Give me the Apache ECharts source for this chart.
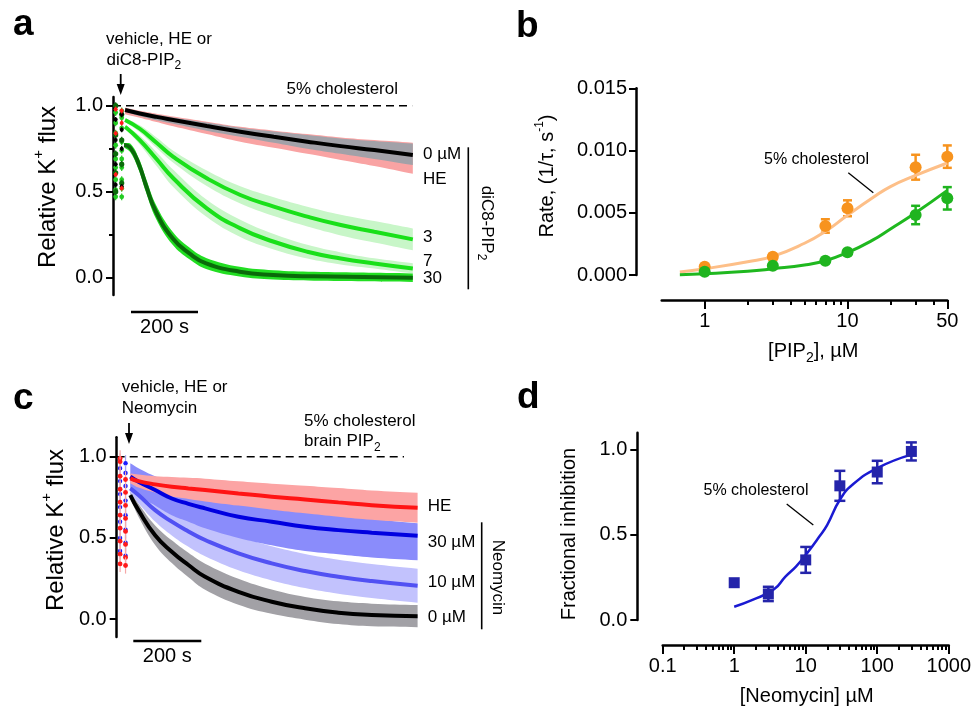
<!DOCTYPE html>
<html><head><meta charset="utf-8">
<script src="https://cdn.jsdelivr.net/npm/echarts@6/dist/echarts.min.js"></script>
<style>html,body{margin:0;padding:0;background:#fff}#c{width:974px;height:706px}</style>
</head><body><div id="c"></div>
<script>
const FONT = '"Liberation Sans", Arial, Helvetica, sans-serif';

// ---------------- Panel a: diC8-PIP2 traces (time in s, relative flux) ----------------
const tA      = [36, 80, 130, 180, 280, 380, 480, 580, 680, 780, 895];
const a0uM    = [0.975, 0.955, 0.935, 0.917, 0.882, 0.849, 0.819, 0.791, 0.765, 0.742, 0.713];
const a0uMLo  = [0.965, 0.940, 0.915, 0.895, 0.855, 0.820, 0.785, 0.750, 0.720, 0.690, 0.655];
const a0uMHi  = [0.985, 0.965, 0.948, 0.932, 0.902, 0.872, 0.850, 0.830, 0.810, 0.795, 0.780];
const aHELo   = [0.950, 0.930, 0.905, 0.880, 0.835, 0.790, 0.755, 0.720, 0.685, 0.650, 0.605];
const aHEHi   = [0.990, 0.970, 0.953, 0.937, 0.907, 0.877, 0.855, 0.835, 0.815, 0.800, 0.785];
const a3uM    = [0.917, 0.866, 0.785, 0.703, 0.578, 0.481, 0.413, 0.355, 0.306, 0.267, 0.223];
const a3uMSem = [0.010, 0.020, 0.030, 0.035, 0.045, 0.050, 0.055, 0.058, 0.060, 0.062, 0.063];
const a7uM    = [0.878, 0.800, 0.690, 0.578, 0.403, 0.287, 0.209, 0.151, 0.112, 0.083, 0.054];
const a7uMSem = [0.010, 0.025, 0.040, 0.050, 0.050, 0.050, 0.045, 0.040, 0.035, 0.030, 0.030];
const t30A    = [33, 53, 78, 98, 128, 178, 228, 278, 378, 478, 600, 895];
const a30uM   = [0.771, 0.752, 0.655, 0.539, 0.384, 0.229, 0.141, 0.083, 0.035, 0.016, 0.008, 0.000];
const a30uMSem= [0.012, 0.025, 0.035, 0.040, 0.040, 0.038, 0.034, 0.032, 0.028, 0.027, 0.026, 0.025];
const refA    = [[0, 1.0], [893, 1.0]];
const preTimesA = [8, 26];
const preGreenA = [[0.96, 0.90, 0.84, 0.77, 0.69, 0.64, 0.57, 0.51, 0.47], [0.97, 0.93, 0.87, 0.79, 0.74, 0.69, 0.64, 0.57, 0.52, 0.47]];
const preDkGreenA = [[1.00, 0.83, 0.72, 0.61, 0.50], [0.95, 0.80, 0.66, 0.55]];
const preBlackA = [[0.92, 0.80, 0.66, 0.54], [0.95, 0.86, 0.75, 0.53]];
const preRedA   = [[0.98, 0.84, 0.60], [0.97, 0.90, 0.52]];

// ---------------- Panel b: rate vs [PIP2] ----------------
const bX        = [1, 3, 7, 10, 30, 50];
const bChol     = [0.00067, 0.00147, 0.00394, 0.00536, 0.00866, 0.00951];
const bCholErr  = [0.0001, 0.0002, 0.00054, 0.00064, 0.0010, 0.0009];
const bCtrl     = [0.00027, 0.00075, 0.00115, 0.00182, 0.00482, 0.00616];
const bCtrlErr  = [0.0001, 0.0001, 0.0001, 0.0001, 0.00074, 0.0009];
const bFitX     = [0.67, 1, 2, 3, 5, 7, 10, 15, 20, 30, 50];
const bFitChol  = [0.00024, 0.0005, 0.00107, 0.0015, 0.00255, 0.0035, 0.0048, 0.0062, 0.0071, 0.0080, 0.0090];
const bFitCtrl  = [0.00003, 0.0001, 0.0003, 0.0005, 0.0008, 0.00115, 0.0018, 0.0028, 0.0037, 0.0050, 0.0068];

// ---------------- Panel c: neomycin traces ----------------
const tC       = [40, 64, 113, 162, 211, 260, 358, 456, 554, 652, 750, 885];
const c0uM     = [0.764, 0.671, 0.517, 0.415, 0.333, 0.261, 0.168, 0.107, 0.066, 0.039, 0.025, 0.018];
const c0uMSem  = [0.02, 0.04, 0.06, 0.07, 0.075, 0.08, 0.08, 0.075, 0.07, 0.07, 0.07, 0.068];
const c10uM    = [0.805, 0.764, 0.671, 0.600, 0.540, 0.487, 0.405, 0.343, 0.296, 0.261, 0.234, 0.205];
const c10uMSem = [0.03, 0.05, 0.07, 0.085, 0.095, 0.10, 0.105, 0.105, 0.105, 0.105, 0.105, 0.105];
const c30uM    = [0.877, 0.846, 0.795, 0.743, 0.710, 0.682, 0.630, 0.600, 0.569, 0.548, 0.532, 0.513];
const c30uMLo  = [0.80, 0.76, 0.70, 0.64, 0.60, 0.56, 0.50, 0.455, 0.42, 0.40, 0.38, 0.363];
const c30uMHi  = [0.96, 0.93, 0.88, 0.84, 0.81, 0.79, 0.75, 0.72, 0.69, 0.66, 0.62, 0.59];
const cHE      = [0.867, 0.850, 0.830, 0.815, 0.805, 0.795, 0.774, 0.754, 0.737, 0.719, 0.702, 0.686];
const cHESem   = [0.03, 0.04, 0.05, 0.06, 0.065, 0.07, 0.075, 0.08, 0.085, 0.088, 0.09, 0.092];
const refC     = [[0, 1.0], [845, 1.0]];
const preTimesC = [10, 26];
const preRedC  = [[0.99, 0.97, 0.88, 0.80, 0.72, 0.64, 0.56, 0.48, 0.40, 0.34], [0.86, 0.78, 0.70, 0.62, 0.54, 0.46, 0.38, 0.33]];
const preBlueC = [[0.93, 0.85, 0.77, 0.69, 0.60, 0.50, 0.42], [0.96, 0.90, 0.82, 0.73, 0.64, 0.55, 0.47, 0.39]];

// ---------------- Panel d: fractional inhibition vs [Neomycin] ----------------
const dX    = [1, 3, 10, 30, 100, 300];
const dV    = [0.219, 0.153, 0.353, 0.788, 0.869, 0.990];
const dErr  = [0, 0.042, 0.076, 0.088, 0.066, 0.053];
const dFitX = [1, 1.8, 3.6, 5.2, 7.3, 10, 15.5, 20, 30, 45, 100, 300];
const dFitV = [0.078, 0.118, 0.18, 0.255, 0.314, 0.382, 0.49, 0.559, 0.706, 0.794, 0.892, 0.971];

// tick values
const ticksA = [0, 0.5, 1.0], minorTicksA = [0.25, 0.75];
const ticksB = [0, 0.005, 0.010, 0.015];
const ticksBX = [1, 10, 50], minorBX = [2, 3, 4, 5, 6, 7, 8, 9, 20, 30, 40];
const ticksD = [0, 0.5, 1.0];
const ticksDX = [0.1, 1, 10, 100, 1000];
const minorDX = [0.2,0.3,0.4,0.5,0.6,0.7,0.8,0.9, 2,3,4,5,6,7,8,9, 20,30,40,50,60,70,80,90, 200,300,400,500,600,700,800,900];

// ---------------- helpers ----------------
const pairs = (x, y) => x.map((v, i) => [v, y[i]]);
const sub = (a, b) => a.map((v, i) => v - b[i]);
const add = (a, b) => a.map((v, i) => v + b[i]);

function band(xi, yi, t, lo, hi, color) {
  return {type: 'custom', xAxisIndex: xi, yAxisIndex: yi, silent: true, clip: false,
    data: [[t[0], lo[0]]],
    renderItem(p, api) {
      const n = t.length, pts = [];
      // corners are repeated so the smoothed outline keeps square ends
      pts.push(api.coord([t[0], hi[0]]));
      for (let i = 0; i < n; i++) pts.push(api.coord([t[i], hi[i]]));
      pts.push(api.coord([t[n - 1], hi[n - 1]]));
      pts.push(api.coord([t[n - 1], lo[n - 1]]));
      for (let i = n - 1; i >= 0; i--) pts.push(api.coord([t[i], lo[i]]));
      pts.push(api.coord([t[0], lo[0]]));
      return {type: 'polygon', shape: {points: pts, smooth: 0.4}, style: {fill: color}};
    }};
}
function line(xi, yi, t, v, color, width, extra) {
  return Object.assign({type: 'line', xAxisIndex: xi, yAxisIndex: yi, data: pairs(t, v),
    smooth: 0.5, symbol: 'none', showSymbol: false, silent: true, clip: false,
    lineStyle: {color, width}}, extra || {});
}
function errBars(xi, yi, x, y, e, color, cap, lw) {
  return {type: 'custom', xAxisIndex: xi, yAxisIndex: yi, silent: true, clip: false, z: 3,
    data: x.map((v, i) => [v, y[i], e[i]]),
    renderItem(p, api) {
      const xv = api.value(0), yv = api.value(1), ev = api.value(2);
      if (!ev) return null;
      const tp = api.coord([xv, yv + ev]), bt = api.coord([xv, yv - ev]);
      const st = {stroke: color, lineWidth: lw};
      return {type: 'group', children: [
        {type: 'line', shape: {x1: tp[0], y1: tp[1], x2: bt[0], y2: bt[1]}, style: st},
        {type: 'line', shape: {x1: tp[0] - cap, y1: tp[1], x2: tp[0] + cap, y2: tp[1]}, style: st},
        {type: 'line', shape: {x1: bt[0] - cap, y1: bt[1], x2: bt[0] + cap, y2: bt[1]}, style: st}]};
    }};
}
function prePts(xi, yi, times, cols, color, barColor, err, r) {
  const data = [];
  cols.forEach((col, ci) => col.forEach(v => data.push([times[ci], v])));
  return {type: 'custom', xAxisIndex: xi, yAxisIndex: yi, silent: true, clip: false, z: 4, data,
    renderItem(p, api) {
      const x = api.value(0), y = api.value(1);
      const c = api.coord([x, y]), t = api.coord([x, y + err]), b = api.coord([x, y - err]);
      return {type: 'group', children: [
        {type: 'line', shape: {x1: t[0], y1: t[1], x2: b[0], y2: b[1]}, style: {stroke: barColor, lineWidth: 1.2}},
        {type: 'circle', shape: {cx: c[0], cy: c[1], r}, style: {fill: color}}]};
    }};
}
function scatter(xi, yi, x, y, color, symbol, size) {
  return {type: 'scatter', xAxisIndex: xi, yAxisIndex: yi, data: pairs(x, y), symbol, symbolSize: size,
    itemStyle: {color, opacity: 1}, silent: true, z: 5, clip: false};
}

const blackLine = {color: '#000', width: 2.5};
function yAx(grid, min, max, ticks, fmt, opt) {
  return Object.assign({gridIndex: grid, type: 'value', min, max, position: 'left',
    axisLine: {show: true, onZero: false, lineStyle: blackLine},
    axisTick: {show: true, inside: false, length: 7, customValues: ticks, lineStyle: {color: '#000', width: 2}},
    axisLabel: {show: true, customValues: ticks, formatter: fmt, margin: 10, fontSize: 20, color: '#000', fontFamily: FONT},
    splitLine: {show: false}}, opt || {});
}
function yMinor(grid, min, max, ticks) {
  return {gridIndex: grid, type: 'value', min, max, position: 'left',
    axisLine: {show: false, onZero: false}, axisLabel: {show: false}, splitLine: {show: false},
    axisTick: {show: true, inside: false, length: 4, customValues: ticks, lineStyle: {color: '#000', width: 2}}};
}
function xLog(grid, min, max, ticks, labels, len, showLine) {
  return {gridIndex: grid, type: 'log', logBase: 10, min, max, position: 'bottom', offset: 25,
    axisLine: {show: showLine, onZero: false, lineStyle: blackLine},
    axisTick: {show: true, inside: false, length: len, customValues: ticks, lineStyle: {color: '#000', width: 2}},
    axisLabel: labels ? {show: true, customValues: labels, margin: 11, fontSize: 20, color: '#000', fontFamily: FONT,
      formatter: v => String(+Number(v).toPrecision(6))} : {show: false},
    splitLine: {show: false}, minorTick: {show: false}};
}
const xTime = grid => ({gridIndex: grid, type: 'value', min: 0, max: 900, show: false,
  axisLine: {onZero: false}, splitLine: {show: false}});

// ---------------- text / decoration helpers ----------------
function txt(text, x, y, size, opt) {
  opt = opt || {};
  const align = opt.align || 'left';
  return {type: 'text', x, y, rotation: opt.rot || 0, silent: true, z: 100,
    style: {text, fill: '#000', fontSize: size, fontFamily: FONT, fontWeight: opt.bold ? 'bold' : 'normal',
      align, textAlign: align, verticalAlign: 'middle', textVerticalAlign: 'middle', rich: opt.rich}};
}
function richFor(size) {
  return {
    m:   {fontSize: size, fontFamily: FONT, lineHeight: Math.round(size * 1.4), fill: '#000'},
    sub: {fontSize: Math.round(size * 0.68), fontFamily: FONT, verticalAlign: 'bottom', fill: '#000'},
    sup: {fontSize: Math.round(size * 0.62), fontFamily: FONT, verticalAlign: 'top', fill: '#000'}
  };
}
function seg(x1, y1, x2, y2, w) {
  return {type: 'line', silent: true, z: 100, shape: {x1, y1, x2, y2}, style: {stroke: '#000', lineWidth: w}};
}
function arrow(x, y1, y2) {
  return [seg(x, y1, x, y2 - 9, 1.8),
    {type: 'polygon', silent: true, z: 100, shape: {points: [[x - 4, y2 - 11], [x + 4, y2 - 11], [x, y2]]}, style: {fill: '#000'}}];
}

const graphics = [
  // panel letters
  txt('a', 13, 25, 37, {bold: true}),
  txt('b', 516, 26.5, 37, {bold: true}),
  txt('c', 13, 398.5, 37, {bold: true}),
  txt('d', 517, 397.5, 37, {bold: true}),
  // panel a annotations
  txt('vehicle, HE or', 106, 39.5, 17),
  txt('{m|diC8-PIP}{sub|2}', 106.5, 60, 17, {rich: richFor(17)}),
  ...arrow(120.7, 74, 95),
  txt('5% cholesterol', 398, 89, 17, {align: 'right'}),
  txt('0 µM', 423, 154, 17), txt('HE', 423, 179, 17), txt('3', 423, 237.5, 17),
  txt('7', 423, 261.3, 17), txt('30', 423, 278.8, 17),
  seg(468.3, 147.3, 468.3, 289.3, 1.6),
  txt('{m|diC8-PIP}{sub|2}', 487, 223, 17, {rich: richFor(17), rot: -Math.PI / 2, align: 'center'}),
  txt('{m|Relative K}{sup|+}{m| flux}', 48.5, 187, 24, {rich: richFor(24), rot: Math.PI / 2, align: 'center'}),
  seg(131, 312, 198, 312, 2.5),
  txt('200 s', 164.5, 327, 20, {align: 'center'}),
  // panel b
  txt('5% cholesterol', 816.5, 160, 16, {align: 'center'}),
  seg(848.3, 172.7, 873.3, 192.7, 1.3),
  txt('{m|Rate, (1/τ, s}{sup|-1}{m|)}', 547.5, 176, 20, {rich: richFor(20), rot: Math.PI / 2, align: 'center'}),
  txt('{m|[PIP}{sub|2}{m|], µM}', 813.3, 351, 20, {rich: richFor(20), align: 'center'}),
  // panel c
  txt('vehicle, HE or', 121.7, 387, 17),
  txt('Neomycin', 121.7, 408, 17),
  ...arrow(129, 423, 444),
  txt('5% cholesterol', 304, 421.2, 17),
  txt('{m|brain PIP}{sub|2}', 304, 441.2, 17, {rich: richFor(17)}),
  txt('HE', 427.7, 506.5, 17), txt('30 µM', 427.7, 542, 17), txt('10 µM', 427.7, 582.5, 17), txt('0 µM', 427.7, 617.5, 17),
  seg(481.7, 522.3, 481.7, 629.3, 1.6),
  txt('Neomycin', 497.5, 577.5, 17, {rot: -Math.PI / 2, align: 'center'}),
  txt('{m|Relative K}{sup|+}{m| flux}', 56.5, 530, 24, {rich: richFor(24), rot: Math.PI / 2, align: 'center'}),
  seg(133.3, 641, 201.3, 641, 2.5),
  txt('200 s', 167.3, 656, 20, {align: 'center'}),
  // panel d
  txt('5% cholesterol', 756, 491, 16, {align: 'center'}),
  seg(786.7, 504, 813.3, 525, 1.3),
  txt('Fractional inhibition', 569, 534, 20, {rot: Math.PI / 2, align: 'center'}),
  txt('[Neomycin] µM', 806.7, 696, 20, {align: 'center'})
];

const series = [
  // ---- panel a (x0, y0)
  band(0, 0, tA, aHELo, aHEHi, '#f9a3a3'),
  band(0, 0, tA, a0uMLo, a0uMHi, '#a2a1a8'),
  band(0, 0, tA, sub(a3uM, a3uMSem), add(a3uM, a3uMSem), '#c8f6c8'),
  band(0, 0, tA, sub(a7uM, a7uMSem), add(a7uM, a7uMSem), '#c8f6c8'),
  band(0, 0, t30A, sub(a30uM, a30uMSem), add(a30uM, a30uMSem), '#22de22'),
  line(0, 0, refA.map(p => p[0]), refA.map(p => p[1]), '#000', 1.6, {smooth: false, lineStyle: {color: '#000', width: 1.6, type: [8, 5]}}),
  line(0, 0, tA, a3uM, '#19e019', 4),
  line(0, 0, tA, a7uM, '#19e019', 4),
  line(0, 0, t30A, a30uM, '#0a6a0a', 4),
  line(0, 0, tA, a0uM, '#000', 4),
  prePts(0, 0, preTimesA, preGreenA, '#22cc22', '#22cc22', 0.02, 2.4),
  prePts(0, 0, preTimesA, preDkGreenA, '#0b6b0b', '#0b6b0b', 0.02, 2.6),
  prePts(0, 0, preTimesA, preBlackA, '#000', '#000', 0.015, 2),
  prePts(0, 0, preTimesA, preRedA, '#ff1a1a', '#ff1a1a', 0.015, 2),
  // ---- panel b (x1, y2)
  line(1, 2, bFitX, bFitChol, '#fdbf88', 3),
  line(1, 2, bFitX, bFitCtrl, '#1fb81f', 3),
  errBars(1, 2, bX, bChol, bCholErr, '#f7931e', 4.5, 2.5),
  errBars(1, 2, bX, bCtrl, bCtrlErr, '#1fb41f', 4.5, 2.5),
  scatter(1, 2, bX, bChol, '#f7931e', 'circle', 12),
  scatter(1, 2, bX, bCtrl, '#1fb41f', 'circle', 12),
  // ---- panel c (x3, y3)
  band(3, 3, tC, sub(c0uM, c0uMSem), add(c0uM, c0uMSem), '#a2a1a6'),
  band(3, 3, tC, sub(c10uM, c10uMSem), add(c10uM, c10uMSem), '#c2c2fd'),
  band(3, 3, tC, c30uMLo, c30uMHi, '#8a8cfb'),
  band(3, 3, tC, sub(cHE, cHESem), add(cHE, cHESem), '#fca4a4'),
  line(3, 3, refC.map(p => p[0]), refC.map(p => p[1]), '#000', 1.6, {smooth: false, lineStyle: {color: '#000', width: 1.6, type: [8, 5]}}),
  line(3, 3, tC, c0uM, '#000', 4),
  line(3, 3, tC, c10uM, '#5151f3', 4),
  line(3, 3, tC, c30uM, '#0000e0', 4),
  line(3, 3, tC, cHE, '#ff1414', 4),
  prePts(3, 3, preTimesC, preBlueC, '#1a1aff', '#a4a4f4', 0.05, 2.2),
  prePts(3, 3, preTimesC, preRedC, '#ff1a1a', '#f5a8a8', 0.05, 2.4),
  // ---- panel d (x4, y4)
  line(4, 4, dFitX, dFitV, '#1a1ad2', 2.5),
  errBars(4, 4, dX, dV, dErr, '#2424aa', 5.5, 2.5),
  scatter(4, 4, dX, dV, '#2424aa', 'rect', 11)
];

const option = {
  animation: false,
  backgroundColor: '#fff',
  textStyle: {fontFamily: FONT},
  grid: [
    {left: 113, top: 97.1, width: 301.5, height: 197.8},
    {left: 661.7, top: 88.3, width: 285.6, height: 186.7},
    {left: 116.7, top: 437.3, width: 306, height: 199.6},
    {left: 662.7, top: 432.7, width: 287.3, height: 187.3}
  ],
  xAxis: [
    xTime(0),
    xLog(1, 0.5, 50, ticksBX, ticksBX, 9, true),
    xLog(1, 0.5, 50, minorBX, null, 5, false),
    xTime(2),
    xLog(3, 0.1, 1000, ticksDX, ticksDX, 9, true),
    xLog(3, 0.1, 1000, minorDX, null, 5, false)
  ],
  yAxis: [
    yAx(0, -0.1, 1.05, ticksA, v => Number(v).toFixed(1)),
    yMinor(0, -0.1, 1.05, minorTicksA),
    yAx(1, 0, 0.015, ticksB, v => Number(v).toFixed(3), {offset: 25.7, axisLabel: {show: true, customValues: ticksB, formatter: v => Number(v).toFixed(3), margin: 9, fontSize: 20, color: '#000', fontFamily: FONT}}),
    yAx(2, -0.11, 1.12, ticksA, v => Number(v).toFixed(1)),
    yAx(3, 0, 1.1, ticksD, v => Number(v).toFixed(1), {offset: 25.4})
  ],
  series,
  graphic: {elements: graphics}
};

const chart = echarts.init(document.getElementById('c'));
chart.setOption(option);
</script>
</body></html>
